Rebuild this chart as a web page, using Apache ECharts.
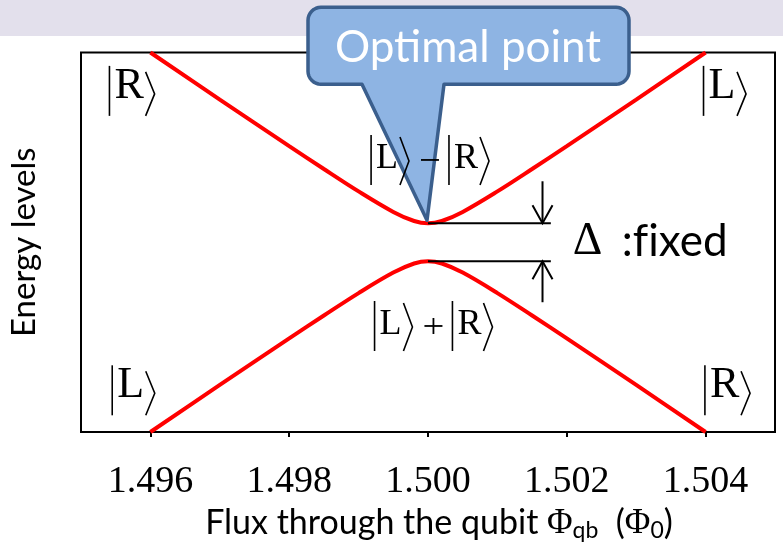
<!DOCTYPE html>
<html>
<head>
<meta charset="utf-8">
<script src="https://cdn.jsdelivr.net/npm/echarts@6/dist/echarts.min.js"></script>
<style>
  html, body { margin: 0; padding: 0; background: #fff; }
  #chart { width: 783px; height: 551px; }
</style>
</head>
<body>
<div id="chart"></div>
<script>
// Flux through the qubit (units of Φ0)
const flux = [1.496, 1.497, 1.498, 1.4985, 1.499, 1.4995, 1.4998, 1.500, 1.5002, 1.5005, 1.501, 1.5015, 1.502, 1.503, 1.504];
// Two lowest energy levels (arbitrary units), anti-crossing at Φ = 1.500
const upperLevel = [1.000, 0.752, 0.507, 0.386, 0.268, 0.160, 0.112, 0.100, 0.112, 0.160, 0.268, 0.386, 0.507, 0.752, 1.000];
const lowerLevel = [-1.000, -0.752, -0.507, -0.386, -0.268, -0.160, -0.112, -0.100, -0.112, -0.160, -0.268, -0.386, -0.507, -0.752, -1.000];
// Tick labels on the flux axis
const xTicks = [1.496, 1.498, 1.500, 1.502, 1.504];
// Ket annotations: anchor (flux, energy) at the foot of the first bar
const ketLabels = [
  { at: [1.49541, 0.666], tokens: ['R'], big: true },
  { at: [1.50397, 0.666], tokens: ['L'], big: true },
  { at: [1.49545, -0.912], tokens: ['L'], big: true },
  { at: [1.50399, -0.912], tokens: ['R'], big: true },
  { at: [1.49918, 0.302], tokens: ['L', '-', 'R'], big: false },
  { at: [1.49923, -0.573], tokens: ['L', '+', 'R'], big: false }
];
// Gap marker: optimal point and the end of the Δ reference lines
const optimalPoint = [1.500, 0.100];
const gapLineEnd = 1.50177;
const gapArrowFlux = 1.50165;

const SERIF = '"Liberation Serif", "Times New Roman", serif';
const SANS = 'Lato, "Noto Sans", sans-serif';

function ketElements(x0, yb, tokens, big) {
  const fs = big ? 44 : 36;
  const barH = 50;
  const capMid = big ? 29.5 : 26.5;
  const letterW = { R: fs * 0.64, L: fs * 0.58 };
  const els = [];
  let x = x0;
  tokens.forEach(function (t) {
    if (t === '-' || t === '+') {
      const cx = x + 21;
      const cy = yb - 25;
      els.push({ type: 'line', shape: { x1: cx - 9, y1: cy, x2: cx + 9, y2: cy },
        style: { stroke: '#000', lineWidth: 1.8 } });
      if (t === '+') {
        els.push({ type: 'line', shape: { x1: cx, y1: cy - 8, x2: cx, y2: cy + 8 },
          style: { stroke: '#000', lineWidth: 1.8 } });
      }
      x = cx + 19;
      return;
    }
    els.push({ type: 'line', shape: { x1: x, y1: yb - barH, x2: x, y2: yb },
      style: { stroke: '#000', lineWidth: 1.6 } });
    const lx = x + 5;
    els.push({ type: 'text', style: { text: t, x: lx, y: yb - capMid, font: fs + 'px ' + SERIF,
      fill: '#000', align: 'left', verticalAlign: 'middle' } });
    const bx = lx + letterW[t] + 3;
    const bw = 9;
    const bh = big ? 44 : 48;
    els.push({ type: 'polyline', shape: { points: [[bx, yb - bh], [bx + bw, yb - bh / 2], [bx, yb]] },
      style: { stroke: '#000', lineWidth: 1.6, fill: null } });
    x = bx + bw;
  });
  return els;
}

const chart = echarts.init(document.getElementById('chart'), null, { renderer: 'canvas' });

chart.setOption({
  animation: false,
  backgroundColor: '#ffffff',
  graphic: [
    { type: 'rect', z: -10, shape: { x: 0, y: 0, width: 783, height: 36 }, style: { fill: '#e3e0ec' } }
  ],
  grid: {
    left: 77, right: 8, top: 52.5, bottom: 119,
    show: true, borderColor: '#000', borderWidth: 2, backgroundColor: 'transparent'
  },
  xAxis: {
    type: 'value',
    min: 1.495, max: 1.505,
    splitLine: { show: false },
    axisLine: { show: true, onZero: false, lineStyle: { color: '#000', width: 2 } },
    axisTick: { show: true, customValues: xTicks, length: 5, lineStyle: { color: '#000', width: 2 } },
    axisLabel: {
      customValues: xTicks,
      formatter: function (v) { return v.toFixed(3); },
      fontFamily: SERIF, fontSize: 38, color: '#000', margin: 31
    },
    name: '{t|Flux through the qubit }{p|Φ}{s|qb}{t|  (}{p|Φ}{s|0}{t|)}',
    nameLocation: 'middle',
    nameGap: 70,
    nameTextStyle: {
      padding: [0, 0, 0, 22],
      rich: {
        t: { fontFamily: SANS, fontSize: 34, color: '#000' },
        p: { fontFamily: SERIF, fontSize: 35, color: '#000' },
        s: { fontFamily: SANS, fontSize: 23, color: '#000', padding: [15, 0, 0, 0] }
      }
    }
  },
  yAxis: {
    type: 'value',
    min: -1, max: 1,
    splitLine: { show: false },
    axisLine: { show: false },
    axisTick: { show: false },
    axisLabel: { show: false },
    name: 'Energy levels',
    nameLocation: 'middle',
    nameRotate: 90,
    nameGap: 40,
    nameTextStyle: { fontFamily: SANS, fontSize: 33, color: '#000' }
  },
  series: [
    {
      type: 'line', name: 'upper',
      data: flux.map(function (f, i) { return [f, upperLevel[i]]; }),
      smooth: 0.35, showSymbol: false, symbol: 'none',
      lineStyle: { color: '#ff0000', width: 4 }, z: 3
    },
    {
      type: 'line', name: 'lower',
      data: flux.map(function (f, i) { return [f, lowerLevel[i]]; }),
      smooth: 0.35, showSymbol: false, symbol: 'none',
      lineStyle: { color: '#ff0000', width: 4 }, z: 3
    },
    {
      type: 'custom', name: 'kets', clip: false, z: 12, silent: true,
      data: ketLabels.map(function (k, i) { return [k.at[0], k.at[1], i]; }),
      renderItem: function (params, api) {
        const p = api.coord([api.value(0), api.value(1)]);
        const k = ketLabels[api.value(2)];
        return { type: 'group', children: ketElements(p[0], p[1], k.tokens, k.big) };
      }
    },
    {
      type: 'custom', name: 'gap', clip: false, z: 4, silent: true,
      data: [[optimalPoint[0], optimalPoint[1]]],
      renderItem: function (params, api) {
        const top = api.coord([optimalPoint[0], upperLevel[7]]);
        const bot = api.coord([optimalPoint[0], lowerLevel[7]]);
        const endX = api.coord([gapLineEnd, 0])[0];
        const ax = api.coord([gapArrowFlux, 0])[0];
        const mid = api.coord([gapLineEnd, 0]);
        const s = { stroke: '#000', lineWidth: 2, fill: null };
        return { type: 'group', children: [
          { type: 'line', shape: { x1: top[0], y1: top[1], x2: endX, y2: top[1] }, style: s },
          { type: 'line', shape: { x1: bot[0], y1: bot[1], x2: endX, y2: bot[1] }, style: s },
          { type: 'line', shape: { x1: ax, y1: top[1] - 42, x2: ax, y2: top[1] }, style: s },
          { type: 'polyline', shape: { points: [[ax - 10, top[1] - 18], [ax, top[1]], [ax + 10, top[1] - 18]] }, style: s },
          { type: 'line', shape: { x1: ax, y1: bot[1], x2: ax, y2: bot[1] + 41 }, style: s },
          { type: 'polyline', shape: { points: [[ax - 10, bot[1] + 18], [ax, bot[1]], [ax + 10, bot[1] + 18]] }, style: s },
          { type: 'text', style: { text: 'Δ', x: mid[0] + 22, y: mid[1], font: '46px ' + SERIF,
              fill: '#000', align: 'left', verticalAlign: 'middle' } },
          { type: 'text', style: { text: ':f\u200Cixed', x: mid[0] + 71, y: mid[1], font: '44px ' + SANS,
              fill: '#000', align: 'left', verticalAlign: 'middle' } }
        ] };
      }
    },
    {
      type: 'custom', name: 'callout', clip: false, z: 10, silent: true,
      data: [[optimalPoint[0], optimalPoint[1]]],
      renderItem: function (params, api) {
        const tip = api.coord([api.value(0), api.value(1)]);
        const L = tip[0] - 120, R = tip[0] + 201, T = tip[1] - 216, B = tip[1] - 139, r = 13;
        const pts = [];
        function arc(cx, cy, a0, a1) {
          for (let i = 0; i <= 8; i++) {
            const a = a0 + (a1 - a0) * i / 8;
            pts.push([cx + r * Math.cos(a), cy + r * Math.sin(a)]);
          }
        }
        arc(L + r, T + r, Math.PI, Math.PI * 1.5);
        arc(R - r, T + r, Math.PI * 1.5, Math.PI * 2);
        arc(R - r, B - r, 0, Math.PI * 0.5);
        pts.push([tip[0] + 16, B]);
        pts.push([tip[0] - 1, tip[1] - 3]);
        pts.push([tip[0] - 66, B]);
        arc(L + r, B - r, Math.PI * 0.5, Math.PI);
        return { type: 'group', children: [
          { type: 'polygon', shape: { points: pts },
            style: { fill: '#8eb4e3', stroke: '#3b5f8d', lineWidth: 3.5, lineJoin: 'round' } },
          { type: 'text', style: { text: 'Optimal point', x: tip[0] + 40, y: T + 41,
              font: '44px ' + SANS, fill: '#ffffff', align: 'center', verticalAlign: 'middle' } }
        ] };
      }
    }
  ]
});
</script>
</body>
</html>
